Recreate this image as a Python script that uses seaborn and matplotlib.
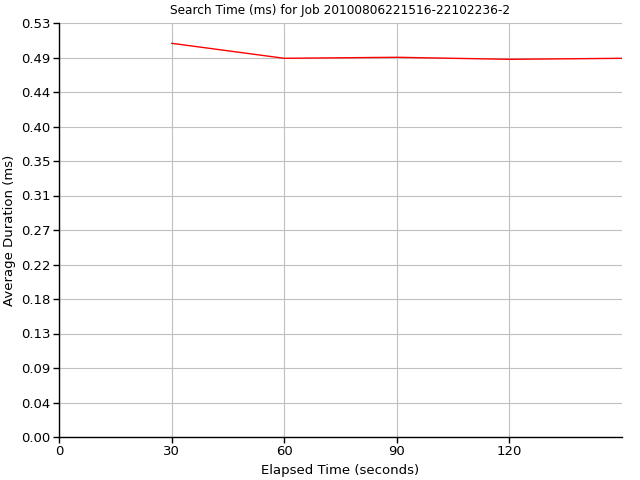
import numpy as np
import pandas as pd
import seaborn as sns
import matplotlib
matplotlib.use("Agg")
import matplotlib.pyplot as plt

# Data
elapsed_s = [30, 60, 90, 120, 150]
avg_ms = [0.504, 0.4848, 0.4861, 0.4835, 0.4848]
x_ticks = [0, 30, 60, 90, 120]
y_max = 0.53

df = pd.DataFrame({"elapsed": elapsed_s, "avg": avg_ms})

sns.set_style("white")
plt.rcParams["font.family"] = ["DejaVu Sans"]
plt.rcParams["font.size"] = 8
plt.rcParams["text.color"] = "black"
plt.rcParams["axes.labelcolor"] = "black"

fig = plt.figure(figsize=(6.4, 4.8), dpi=100)
ax = fig.add_axes([59 / 640, 1 - 437 / 480, 563 / 640, 414 / 480])

sns.lineplot(data=df, x="elapsed", y="avg", color="#ff0000", linewidth=1.0, ax=ax)

ax.set_xlim(0, 150)
ax.set_ylim(0, y_max)
ax.set_xticks(x_ticks)
ax.set_xticklabels([str(t) for t in x_ticks])
y_ticks = np.linspace(0, y_max, 13)
ax.set_yticks(y_ticks)
ax.set_yticklabels([f"{v:.2f}" for v in y_ticks])

ax.grid(True, color="#c0c0c0", linewidth=0.8)
ax.set_axisbelow(True)
for side in ["top", "right"]:
    ax.spines[side].set_visible(False)
for side in ["left", "bottom"]:
    ax.spines[side].set_color("black")
    ax.spines[side].set_linewidth(1.0)
ax.tick_params(axis="both", direction="out", length=4, width=1, color="black",
               labelsize=9.5, labelcolor="black", pad=2, left=True, bottom=True)

ax.set_title("Search Time (ms) for Job 20100806221516-22102236-2", fontsize=8.7,
             pad=6.5, color="black")
ax.set_xlabel("Elapsed Time (seconds)", fontsize=9.5, labelpad=4)
ax.set_ylabel("Average Duration (ms)", fontsize=9.5, labelpad=4)

fig.savefig("out.png", dpi=100)
